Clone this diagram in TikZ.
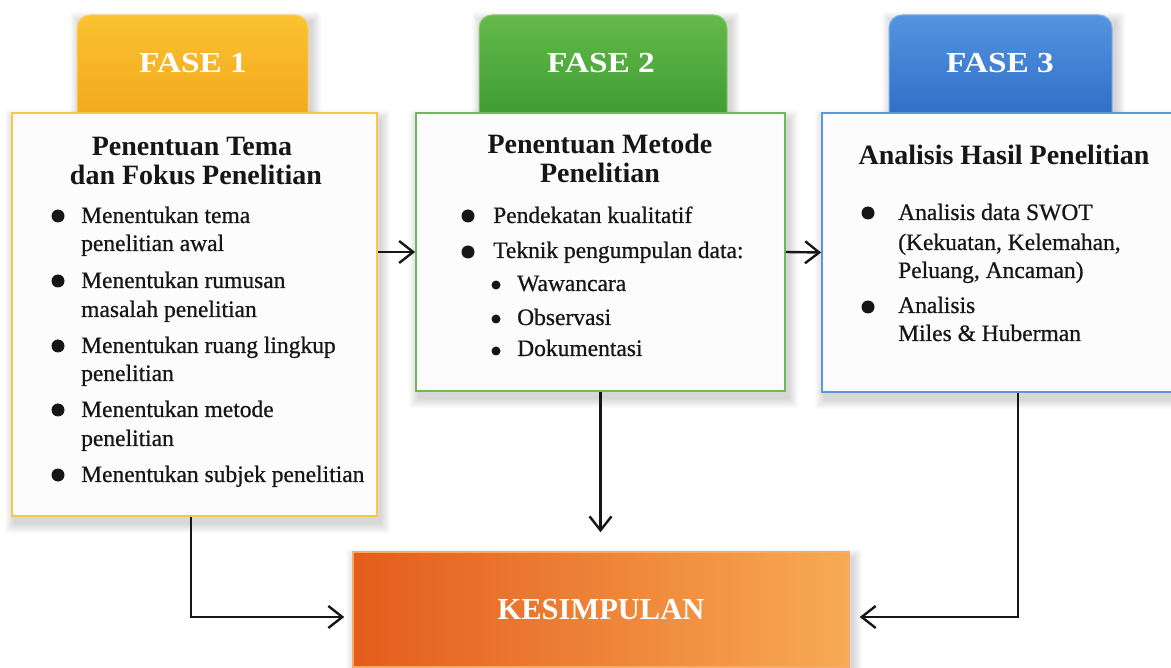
\documentclass[tikz,border=0pt]{standalone}
\usepackage{fontspec}
\setmainfont{Liberation Serif}
\newfontfamily\widefont[FakeStretch=1.15]{Liberation Serif}
\newfontfamily\bodyfont[FakeBold=0.7]{Liberation Serif}
\usetikzlibrary{arrows.meta,calc}

\definecolor{ylwA}{RGB}{251,194,48}
\definecolor{ylwB}{RGB}{240,164,26}
\definecolor{ylwLine}{RGB}{246,200,72}
\definecolor{grnA}{RGB}{100,186,74}
\definecolor{grnB}{RGB}{56,150,46}
\definecolor{grnLine}{RGB}{110,186,86}
\definecolor{bluA}{RGB}{84,148,224}
\definecolor{bluB}{RGB}{42,102,194}
\definecolor{bluLine}{RGB}{94,150,220}
\definecolor{orgA}{RGB}{228,92,28}
\definecolor{orgM}{RGB}{240,134,56}
\definecolor{orgB}{RGB}{248,170,84}
\definecolor{orgLine}{RGB}{248,170,104}
\definecolor{ink}{RGB}{22,22,22}
\definecolor{cardfill}{RGB}{252,252,252}

\newcommand\softshadow[4]{%
  \foreach \sr in {1,...,10}{%
    \fill[black,opacity=0.016,rounded corners=2pt] ({#1-\sr+3},{#2-\sr+7}) rectangle ({#3+\sr+3},{#4+\sr+7});
  }}

\tikzset{
  card/.style={draw, line width=1.8pt, fill=cardfill, inner sep=0},
  itemtxt/.style={anchor=base west, inner sep=0, text=ink, font=\bodyfont\fontsize{23.5}{28}\selectfont},
  ttl/.style={anchor=base, inner sep=0, text=ink, font=\fontsize{28}{34}\selectfont\bfseries},
  dotA/.style={circle, fill=ink, inner sep=0, minimum size=13pt},
  dotB/.style={circle, fill=ink, inner sep=0, minimum size=9pt},
  fase/.style={anchor=base, inner sep=0, text=white, font=\widefont\fontsize{29}{34}\selectfont\bfseries},
  arr/.style={draw=ink, line width=2.4pt, -{Straight Barb[length=14pt,width=22pt]}},
}

\begin{document}
\begin{tikzpicture}[x=1pt,y=-1pt]
\fill[white] (0,0) rectangle (1171,668);
\useasboundingbox (0,0) rectangle (1171,668);

% shadows
\softshadow{77}{15}{308}{113}
\softshadow{479}{15}{727}{113}
\softshadow{889}{15}{1112}{113}
\softshadow{12}{113}{377}{516}
\softshadow{416}{113}{785}{391}
\softshadow{822}{113}{1180}{392}
\softshadow{353}{552}{849}{667}

% tabs
\shade[rounded corners=13pt, top color=ylwA, bottom color=ylwB, draw=ylwA!75!white, line width=1pt] (77,15) rectangle (308,135);
\shade[rounded corners=13pt, top color=grnA, bottom color=grnB, draw=grnA!75!white, line width=1pt] (479,15) rectangle (727,135);
\shade[rounded corners=13pt, top color=bluA, bottom color=bluB, draw=bluA!75!white, line width=1pt] (889,15) rectangle (1112,135);

\node[fase] (f1) at (193,73) {FASE 1};
\node[fase] (f2) at (601,73) {FASE 2};
\node[fase] (f3) at (1000,73) {FASE 3};

% cards
\node[card, draw=ylwLine, minimum width=365, minimum height=403] (b1) at (194.5,314.5) {};
\node[card, draw=grnLine, minimum width=369, minimum height=278] (b2) at (600.5,252) {};
\node[card, draw=bluLine, minimum width=358, minimum height=279] (b3) at (1001,252.5) {};

% box 1
\node[ttl] (h1a) at (192,156) {Penentuan Tema};
\node[ttl] (h1b) at (196,185) {dan Fokus Penelitian};
\node[dotA] (d11) at (58,216) {};
\node[itemtxt] (t11) at (81,223) {Menentukan tema};
\node[itemtxt] (t11b) at (81,251) {penelitian awal};
\node[dotA] (d12) at (58,281) {};
\node[itemtxt] (t12) at (81,288) {Menentukan rumusan};
\node[itemtxt] (t12b) at (81,317) {masalah penelitian};
\node[dotA] (d13) at (58,346) {};
\node[itemtxt] (t13) at (81,353) {Menentukan ruang lingkup};
\node[itemtxt] (t13b) at (81,381) {penelitian};
\node[dotA] (d14) at (58,410) {};
\node[itemtxt] (t14) at (81,417) {Menentukan metode};
\node[itemtxt] (t14b) at (81,446) {penelitian};
\node[dotA] (d15) at (58,475) {};
\node[itemtxt] (t15) at (81,482) {Menentukan subjek penelitian};

% box 2
\node[ttl] (h2a) at (600,154) {Penentuan Metode};
\node[ttl] (h2b) at (600,183) {Penelitian};
\node[dotA] (d21) at (468,216) {};
\node[itemtxt] (t21) at (493,223) {Pendekatan kualitatif};
\node[dotA] (d22) at (468,252) {};
\node[itemtxt] (t22) at (493,258) {Teknik pengumpulan data:};
\node[dotB] (s1) at (496,285) {};
\node[itemtxt] (u1) at (517,291) {Wawancara};
\node[dotB] (s2) at (496,319) {};
\node[itemtxt] (u2) at (517,325) {Observasi};
\node[dotB] (s3) at (496,351) {};
\node[itemtxt] (u3) at (517,356) {Dokumentasi};

% box 3
\node[ttl] (h3) at (1004,165) {Analisis Hasil Penelitian};
\node[dotA] (d31) at (868,213) {};
\node[itemtxt] (t31) at (898,220) {Analisis data SWOT};
\node[itemtxt] (t31b) at (898,250) {(Kekuatan, Kelemahan,};
\node[itemtxt] (t31c) at (898,278) {Peluang, Ancaman)};
\node[dotA] (d32) at (868,307) {};
\node[itemtxt] (t32) at (898,313) {Analisis};
\node[itemtxt] (t32b) at (898,341) {Miles \& Huberman};

% conclusion
\node[draw=orgLine, line width=1.5pt, left color=orgA, middle color=orgM, right color=orgB,
      minimum width=496, minimum height=115, inner sep=0, text=white,
      font=\fontsize{30.5}{36}\selectfont\bfseries] (kes) at (601,609.5) {KESIMPULAN};

\coordinate (kL) at ([yshift=-7.5pt]kes.west);
\coordinate (kR) at ([yshift=-7.5pt]kes.east);

% connectors
\draw[arr] (b1.east |- b2.west) -- (b2.west);
\draw[arr] (b2.east) -- (b3.west);
\draw[arr, shorten >=19pt] (b2.south) -- (b2.south |- kes.north);
\draw[arr, shorten >=8pt] ([xshift=-3.5pt]b1.south) |- (kL);
\draw[arr, shorten >=10pt] ([xshift=17pt]b3.south) |- (kR);
\end{tikzpicture}
\end{document}
